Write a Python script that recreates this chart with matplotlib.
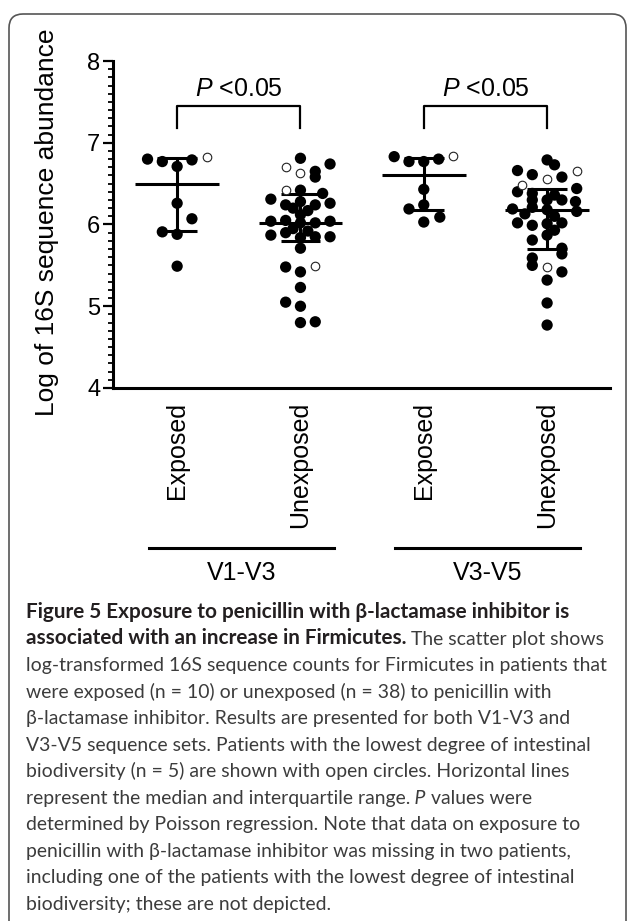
import numpy as np
import matplotlib
matplotlib.use("Agg")
import matplotlib.pyplot as plt
from matplotlib.patches import FancyBboxPatch
from matplotlib.lines import Line2D
from matplotlib.ticker import MultipleLocator
from matplotlib.transforms import IdentityTransform, blended_transform_factory

plt.rcParams["font.family"] = "Liberation Sans"
plt.rcParams["mathtext.fontset"] = "custom"
plt.rcParams["mathtext.rm"] = "Liberation Sans"
plt.rcParams["mathtext.it"] = "Liberation Sans:italic"

# Categories
group_labels = ["Exposed", "Unexposed", "Exposed", "Unexposed"]
region_labels = ["V1-V3", "V3-V5"]
p_labels = ["<0.05", "<0.05"]

# Log of 16S sequence abundance, with swarm offsets
v13_exposed = [6.80, 6.77, 6.71, 6.79, 6.83, 6.26, 6.07, 5.91, 5.88, 5.49]
v13_exposed_dx = [-0.24, -0.12, 0.0, 0.12, 0.24, 0.0, 0.12, -0.12, 0.0, 0.0]
v13_exposed_open = [4]

v13_unexposed = [6.81, 6.74, 6.70, 6.63, 6.65, 6.58, 6.42, 6.42, 6.38,
                 6.31, 6.28, 6.24, 6.24, 6.26, 6.17, 6.20, 6.12, 6.05, 6.04,
                 6.02, 6.02, 6.04, 5.95, 5.92, 5.90, 5.87, 5.84, 5.85, 5.85,
                 5.71, 5.48, 5.42, 5.49, 5.23, 5.05, 5.00, 4.80, 4.81]
v13_unexposed_dx = [0.0, 0.24, -0.12, 0.0, 0.12, 0.12, -0.12, 0.0, 0.18,
                    -0.24, 0.0, -0.12, 0.12, 0.24, 0.06, -0.06, 0.0, -0.12, -0.24,
                    0.0, 0.12, 0.24, -0.06, 0.06, -0.12, -0.24, 0.0, 0.12, 0.24,
                    0.0, -0.12, 0.0, 0.12, 0.0, -0.12, 0.0, 0.0, 0.12]
v13_unexposed_open = [2, 3, 6, 32]

v35_exposed = [6.83, 6.77, 6.77, 6.80, 6.84, 6.43, 6.19, 6.24, 6.09, 6.03]
v35_exposed_dx = [-0.24, -0.12, 0.0, 0.12, 0.24, 0.0, -0.12, 0.0, 0.13, 0.0]
v35_exposed_open = [4]

v35_unexposed = [6.79, 6.73, 6.66, 6.61, 6.56, 6.58, 6.66, 6.48, 6.44,
                 6.40, 6.38, 6.36, 6.30, 6.30, 6.30, 6.28, 6.19, 6.21, 6.18,
                 6.16, 6.10, 6.13, 6.02, 5.99, 6.01, 6.02, 5.93, 5.87, 5.81,
                 5.71, 5.64, 5.59, 5.50, 5.48, 5.42, 5.32, 5.04, 4.77]
v35_unexposed_dx = [0.0, 0.06, -0.24, -0.12, 0.0, 0.12, 0.24, -0.20, 0.24,
                    -0.24, -0.12, 0.06, -0.12, 0.0, 0.12, 0.23, -0.28, -0.12, 0.0,
                    0.24, 0.06, -0.18, -0.24, -0.12, 0.0, 0.12, 0.06, 0.0, -0.12,
                    0.12, 0.12, -0.12, -0.12, 0.0, 0.12, 0.0, 0.0, 0.0]
v35_unexposed_open = [4, 6, 7, 33]

# median and interquartile range lines as drawn
medians = [6.50, 6.02, 6.61, 6.18]
q1 = [5.92, 5.80, 6.18, 5.70]
q3 = [6.81, 6.37, 6.81, 6.44]

caption_lines = [
    [("Figure 5 Exposure to penicillin with \u03b2-lactamase inhibitor is", "bold")],
    [("associated with an increase in Firmicutes.", "bold"), (" The scatter plot shows", "normal")],
    [("log-transformed 16S sequence counts for Firmicutes in patients that", "normal")],
    [("were exposed (n = 10) or unexposed (n = 38) to penicillin with", "normal")],
    [("\u03b2-lactamase inhibitor. Results are presented for both V1-V3 and", "normal")],
    [("V3-V5 sequence sets. Patients with the lowest degree of intestinal", "normal")],
    [("biodiversity (n = 5) are shown with open circles. Horizontal lines", "normal")],
    [("represent the median and interquartile range.", "normal"), (" P", "italic"), (" values were", "normal")],
    [("determined by Poisson regression. Note that data on exposure to", "normal")],
    [("penicillin with \u03b2-lactamase inhibitor was missing in two patients,", "normal")],
    [("including one of the patients with the lowest degree of intestinal", "normal")],
    [("biodiversity; these are not depicted.", "normal")],
]

W, H = 628, 921
fig = plt.figure(figsize=(W / 100, H / 100), dpi=100)
ax = fig.add_axes([113 / W, 1 - 388 / H, 497 / W, 327 / H])
ax.patch.set_visible(False)

all_vals = [v13_exposed, v13_unexposed, v35_exposed, v35_unexposed]
all_dx = [v13_exposed_dx, v13_unexposed_dx, v35_exposed_dx, v35_unexposed_dx]
all_open = [v13_exposed_open, v13_unexposed_open, v35_exposed_open, v35_unexposed_open]

for i, (vals, dx, opn) in enumerate(zip(all_vals, all_dx, all_open)):
    x0 = i + 1
    vals = np.array(vals)
    xs = x0 + np.array(dx)
    is_open = np.zeros(len(vals), bool)
    is_open[opn] = True
    ax.scatter(xs[~is_open], vals[~is_open], s=66, c="black", edgecolors="none", zorder=3)
    ax.scatter(xs[is_open], vals[is_open], s=38, facecolors="white",
               edgecolors="#222222", linewidths=0.8, zorder=4)
    # median + IQR
    ax.hlines(medians[i], x0 - 0.34, x0 + 0.34, color="black", lw=2.2, zorder=2)
    ax.hlines([q1[i], q3[i]], x0 - 0.16, x0 + 0.16, color="black", lw=2.2, zorder=2)
    ax.vlines(x0, q1[i], q3[i], color="black", lw=2.2, zorder=2)

# significance brackets
for k, (a, b) in enumerate([(1, 2), (3, 4)]):
    ax.plot([a, a, b, b], [7.18, 7.45, 7.45, 7.18], color="black", lw=1.6, clip_on=False)
    ax.text((a + b) / 2, 7.66, r"$\mathit{P}$ " + p_labels[k], ha="center", va="center", fontsize=18)

ax.set_xlim(0.48, 4.51)
ax.set_ylim(4, 8)
for s in ["top", "right"]:
    ax.spines[s].set_visible(False)
for s in ["left", "bottom"]:
    ax.spines[s].set_linewidth(2.2)
ax.set_yticks([4, 5, 6, 7, 8])
ax.yaxis.set_minor_locator(MultipleLocator(0.1))
ax.tick_params(axis="y", which="major", length=7, width=1.6, pad=2, labelsize=17)
ax.tick_params(axis="y", which="minor", length=3.5, width=1.3)
ax.set_xticks([1, 2, 3, 4])
ax.set_xticklabels(group_labels, rotation=90, va="top", ha="center", fontsize=18)
ax.tick_params(axis="x", length=0, pad=10)

fig.text(47 / W, 1 - 222 / H, "Log of 16S sequence abundance", rotation=90,
         ha="center", va="center", fontsize=19)

# region bars under the tick labels
tr = blended_transform_factory(ax.transData, fig.transFigure)
for k, (a, b) in enumerate([(1, 2), (3, 4)]):
    c = (a + b) / 2 + 0.02
    fig.add_artist(Line2D([c - 0.75, c + 0.75], [1 - 548 / H] * 2, transform=tr,
                          color="black", lw=2.2))
    fig.text(c, 1 - 573 / H, region_labels[k], transform=tr, ha="center", va="center", fontsize=18)

# caption
cap_font = ["Lato", "DejaVu Sans"]
fig.canvas.draw()
r = fig.canvas.get_renderer()
probe = fig.text(0, 0, caption_lines[2][0][0], family=cap_font, fontsize=10)
cap_size = 10 * 582 / probe.get_window_extent(r).width
probe.remove()
probe = fig.text(0, 0, caption_lines[0][0][0], family=cap_font, fontsize=10, weight="bold")
bold_size = 10 * 546 / probe.get_window_extent(r).width
probe.remove()

for i, segs in enumerate(caption_lines):
    x = 26
    y = 1 - (618 + i * 26.5) / H
    for txt, style in segs:
        kw = dict(family=cap_font, fontsize=cap_size, va="baseline", ha="left")
        if style == "bold":
            kw.update(weight="bold", color="#231f20", fontsize=bold_size)
        elif style == "italic":
            kw.update(style="italic", color="#3c3c3c")
        else:
            kw.update(color="#3c3c3c")
        t = fig.text(x / W, y, txt, **kw)
        x = t.get_window_extent(r).x1

border = FancyBboxPatch((9, -40), 617, 907 + 40, boxstyle="round,pad=0,rounding_size=14",
                        transform=IdentityTransform(), fill=False,
                        edgecolor="#555555", linewidth=1.2)
fig.add_artist(border)

fig.savefig("out.png", dpi=100)
